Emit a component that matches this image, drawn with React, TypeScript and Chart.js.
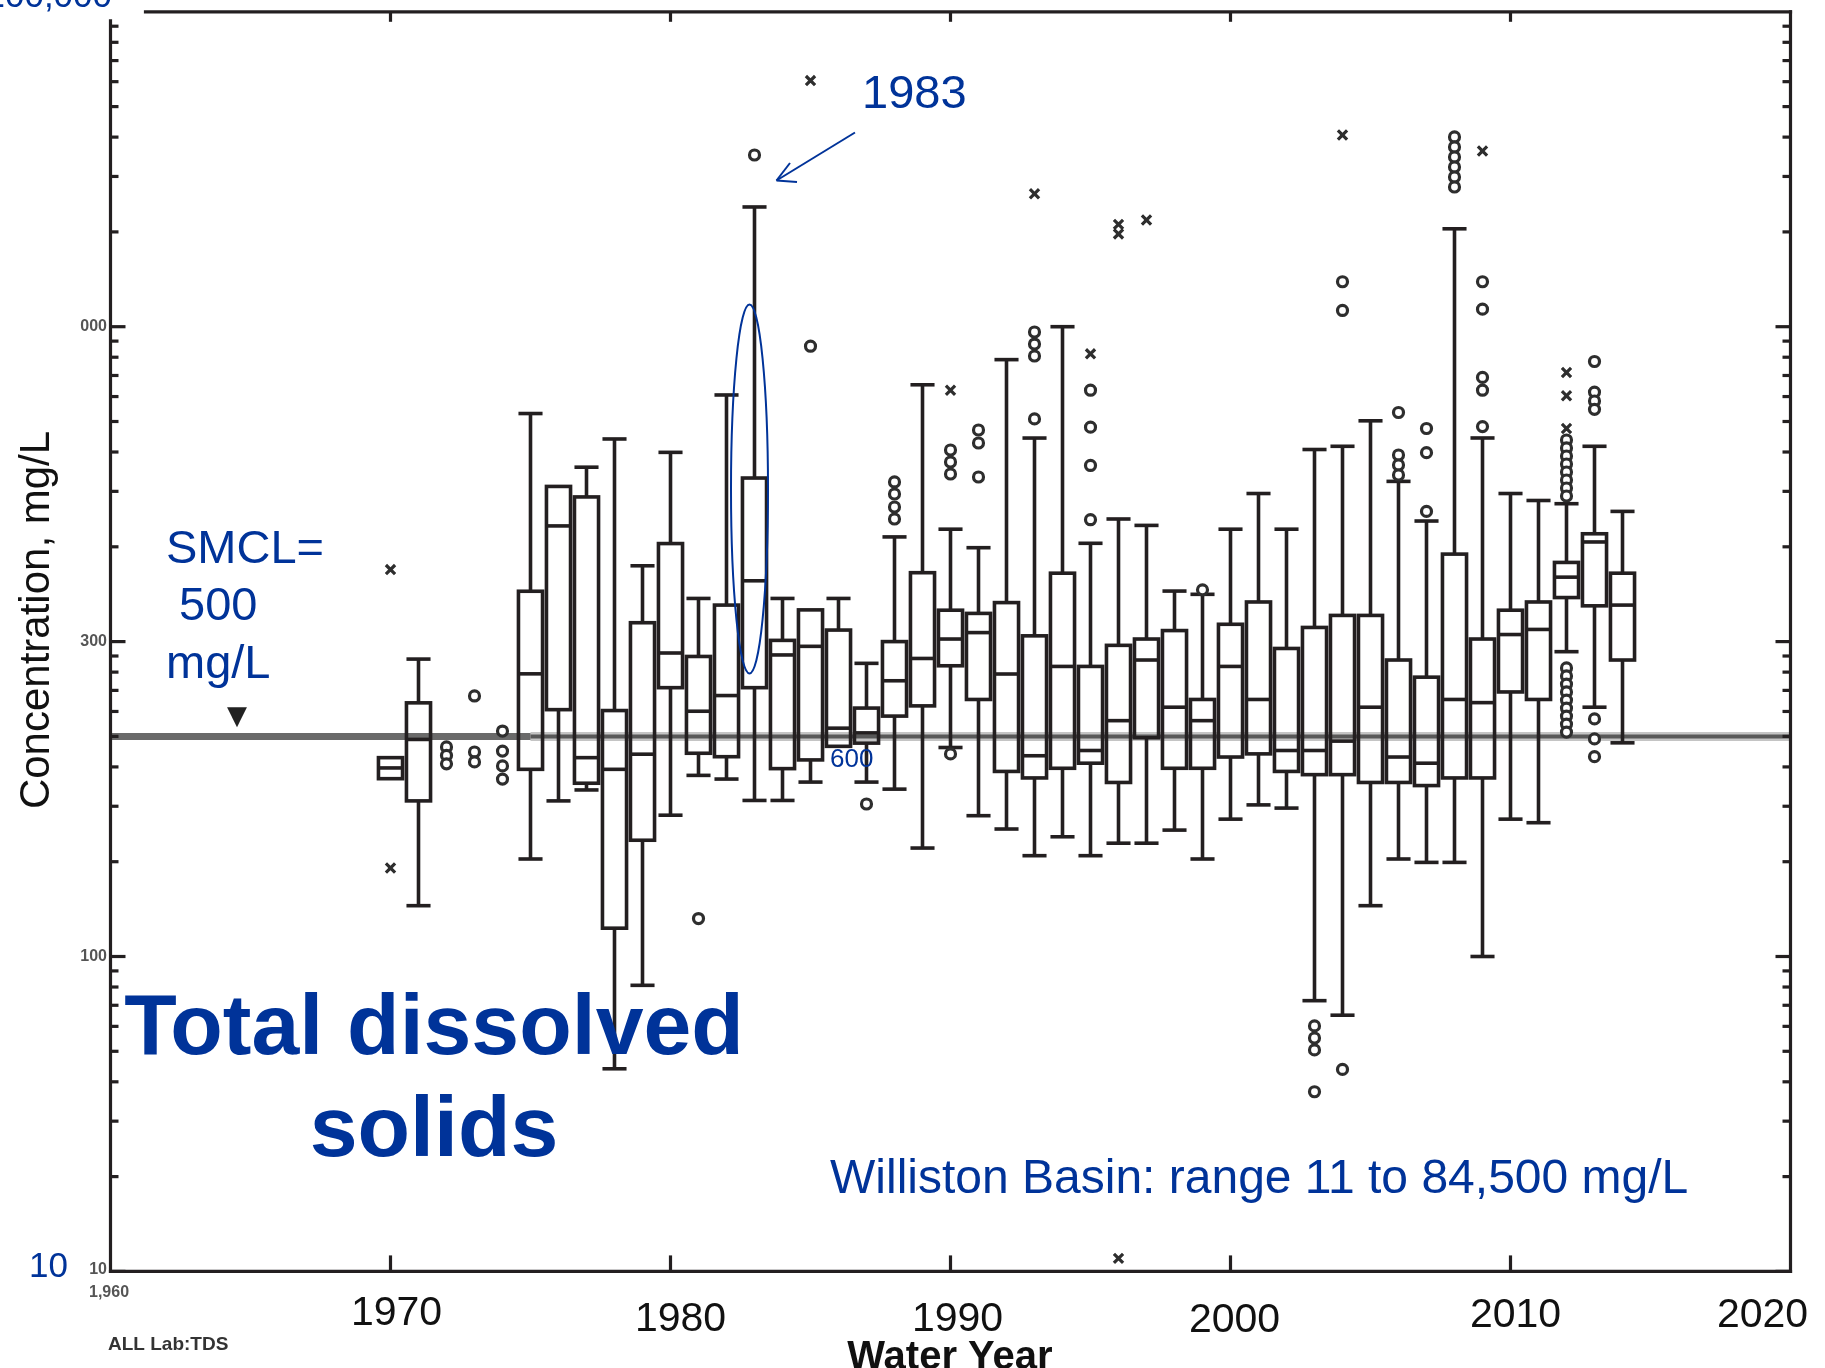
import React, { useEffect, useRef } from 'react';
import { Chart, registerables } from 'chart.js';

Chart.register(...registerables);

// ---------- data (mg/L, water year) ----------
const years = [1970, 1971, 1975, 1976, 1977, 1978, 1979, 1980, 1981, 1982, 1983, 1984, 1985, 1986, 1987, 1988, 1989, 1990, 1991, 1992, 1993, 1994, 1995, 1996, 1997, 1998, 1999, 2000, 2001, 2002, 2003, 2004, 2005, 2006, 2007, 2008, 2009, 2010, 2011, 2012, 2013, 2014];
const whiskerLow = [367, 145, 204, 312, 338, 44, 81, 281, 376, 366, 313, 313, 358, 465, 358, 340, 221, 461, 280, 254, 209, 240, 209, 229, 229, 252, 204, 273, 303, 296, 72.4, 65.1, 145, 204, 199, 199, 100, 273, 266, 929, 619, 477];
const q1 = [367, 312, 393, 608, 355, 123, 234, 714, 442, 431, 714, 395, 421, 465, 476, 580, 625, 838, 655, 387, 369, 396, 411, 357, 495, 396, 396, 430, 440, 387, 378, 378, 357, 357, 349, 369, 369, 692, 655, 1380, 1299, 874];
const median = [397, 489, 790, 2330, 428, 393, 439, 920, 601, 674, 1560, 907, 966, 531, 513, 751, 884, 1019, 1068, 789, 434, 834, 451, 561, 874, 619, 561, 834, 655, 451, 451, 483, 619, 430, 411, 655, 640, 1053, 1093, 1602, 2072, 1306];
const q3 = [428, 639, 1445, 3110, 2880, 604, 1148, 2048, 897, 1306, 3307, 1009, 1261, 1088, 615, 1000, 1655, 1258, 1229, 1330, 1043, 1649, 834, 973, 1019, 1084, 655, 1135, 1336, 951, 1109, 1211, 1211, 874, 771, 1896, 1019, 1258, 1336, 1784, 2200, 1649];
const whiskerHigh = [428, 880, 5300, 3110, 3580, 4400, 1741, 3990, 1371, 6070, 24000, 1371, 1261, 1371, 853, 2150, 6540, 2275, 1987, 7860, 4430, 10000, 2052, 2451, 2339, 1447, 1413, 2275, 2953, 2275, 4074, 4171, 5025, 3227, 2415, 20460, 4432, 2953, 2806, 2741, 4171, 2591];

const circleOutliers: [number, number][] = [
  [1972, 463], [1972, 435], [1972, 409],
  [1973, 672], [1973, 446], [1973, 415],
  [1974, 520], [1974, 449], [1974, 403], [1974, 366],
  [1981, 132], [1983, 35100], [1985, 8670], [1987, 305],
  [1988, 3213], [1988, 2943], [1988, 2676], [1988, 2451],
  [1990, 4060], [1990, 3718], [1990, 3406], [1990, 440],
  [1991, 4699], [1991, 4272], [1991, 3332],
  [1993, 9621], [1993, 8810], [1993, 8072], [1993, 5095],
  [1995, 6285], [1995, 4796], [1995, 3625], [1995, 2438],
  [1999, 1460],
  [2003, 60.2], [2003, 55.1], [2003, 50.5], [2003, 37.2],
  [2004, 13890], [2004, 11260], [2004, 43.8],
  [2006, 5340], [2006, 3913], [2006, 3638], [2006, 3381],
  [2007, 4751], [2007, 3980], [2007, 2591],
  [2008, 40040], [2008, 37210], [2008, 34590], [2008, 32150], [2008, 29880], [2008, 27770],
  [2009, 13890], [2009, 11370], [2009, 6902], [2009, 6285], [2009, 4817],
  [2012, 4367], [2012, 4120], [2012, 3885], [2012, 3664], [2012, 3456], [2012, 3260], [2012, 3074], [2012, 2900],
  [2012, 825], [2012, 778], [2012, 733], [2012, 692], [2012, 652], [2012, 615], [2012, 580], [2012, 547], [2012, 516],
  [2013, 7753], [2013, 6200], [2013, 5808], [2013, 5466], [2013, 568], [2013, 491], [2013, 431],
];
const crossOutliers: [number, number][] = [
  [1970, 1693], [1970, 191], [1985, 60470], [1990, 6285], [1993, 26420], [1995, 8200],
  [1996, 21130], [1996, 19710], [1996, 11], [1997, 21830], [2004, 40600], [2009, 36140],
  [2012, 7155], [2012, 6034], [2012, 4753],
];

const xTickYears = [1970, 1980, 1990, 2000, 2010, 2020];
const xTickLabels = ['1970', '1980', '1990', '2000', '2010', '2020'];
const yTickValues = [10, 100, 1000, 10000];
const yTickLabels = ['10', '100', '300', '000'];
const SMCL = 500;
const X_MIN = 1960;
const X_MAX = 2020;
const Y_MIN = 10;
const Y_MAX = 100000;

// ---------- style constants ----------
const INK = '#231f20';
const BLUE = '#003399';
const FONT = '"Liberation Sans", Arial, Helvetica, sans-serif';
const BOX_W = 0.86; // in years
const xLabelShift = [6, 10, 7, 4, 5, -28];
const xLabelBaseline = [1325, 1331, 1331, 1332, 1327, 1327];

function seg(ctx: CanvasRenderingContext2D, x1: number, y1: number, x2: number, y2: number) {
  ctx.beginPath();
  ctx.moveTo(x1, y1);
  ctx.lineTo(x2, y2);
  ctx.stroke();
}

const boxPlugin = {
  id: 'boxes',
  beforeDatasetsDraw(chart: any) {
    const { ctx } = chart;
    const xs = chart.scales.x;
    const ys = chart.scales.y;
    ctx.save();
    // SMCL line
    const ySm = ys.getPixelForValue(SMCL);
    const xl = xs.getPixelForValue(X_MIN);
    const xr = xs.getPixelForValue(X_MAX);
    const xSplit = xs.getPixelForValue(1975);
    ctx.lineCap = 'butt';
    ctx.strokeStyle = '#c4c4c4';
    ctx.lineWidth = 9;
    seg(ctx, xSplit, ySm, xr, ySm);
    ctx.strokeStyle = '#6a6a6a';
    ctx.lineWidth = 7;
    seg(ctx, xl, ySm, xSplit, ySm);
    ctx.strokeStyle = '#585858';
    ctx.lineWidth = 4;
    seg(ctx, xSplit, ySm, xr, ySm);

    // boxes
    ctx.strokeStyle = INK;
    ctx.lineWidth = 3.6;
    years.forEach((yr, i) => {
      const cx = xs.getPixelForValue(yr);
      const hw = (xs.getPixelForValue(yr + BOX_W / 2) - xs.getPixelForValue(yr - BOX_W / 2)) / 2;
      const yq1 = ys.getPixelForValue(q1[i]);
      const yq3 = ys.getPixelForValue(q3[i]);
      const ymed = ys.getPixelForValue(median[i]);
      const ylo = ys.getPixelForValue(whiskerLow[i]);
      const yhi = ys.getPixelForValue(whiskerHigh[i]);
      if (whiskerHigh[i] > q3[i]) {
        seg(ctx, cx, yq3, cx, yhi);
        seg(ctx, cx - hw, yhi, cx + hw, yhi);
      }
      if (whiskerLow[i] < q1[i]) {
        seg(ctx, cx, yq1, cx, ylo);
        seg(ctx, cx - hw, ylo, cx + hw, ylo);
      }
      ctx.strokeRect(cx - hw, yq3, 2 * hw, yq1 - yq3);
      seg(ctx, cx - hw, ymed, cx + hw, ymed);
    });
    ctx.restore();
  },
  afterDraw(chart: any) {
    const { ctx } = chart;
    const xs = chart.scales.x;
    const ys = chart.scales.y;
    const left = xs.getPixelForValue(X_MIN);
    const right = xs.getPixelForValue(X_MAX);
    const top = ys.getPixelForValue(Y_MAX);
    const bottom = ys.getPixelForValue(Y_MIN);
    ctx.save();
    // frame
    ctx.strokeStyle = INK;
    ctx.lineWidth = 3.2;
    ctx.lineCap = 'square';
    seg(ctx, left, top + 9, left, bottom);
    seg(ctx, left, bottom, right, bottom);
    seg(ctx, right, top, right, bottom);
    seg(ctx, left + 35, top, right, top);
    ctx.lineCap = 'butt';
    // y ticks (log)
    for (let d = Y_MIN; d < Y_MAX; d *= 10) {
      for (let m = 1; m <= 9; m++) {
        const v = d * m;
        const py = ys.getPixelForValue(v);
        const len = m === 1 ? 15 : 8;
        if (py > top + 10) seg(ctx, left, py, left + len, py);
        seg(ctx, right, py, right - len, py);
      }
    }
    // x ticks
    xTickYears.forEach((yr) => {
      if (yr <= X_MIN || yr >= X_MAX) return;
      const px = xs.getPixelForValue(yr);
      seg(ctx, px, bottom, px, bottom - 16);
      seg(ctx, px, top, px, top + 10);
    });

    // x tick labels
    ctx.fillStyle = '#111';
    ctx.font = `41px ${FONT}`;
    ctx.textAlign = 'center';
    ctx.textBaseline = 'alphabetic';
    xTickYears.forEach((yr, i) => {
      ctx.fillText(xTickLabels[i], xs.getPixelForValue(yr) + xLabelShift[i], xLabelBaseline[i]);
    });
    // x title
    ctx.font = `bold 40px ${FONT}`;
    ctx.fillText('Water Year', 950, 1369);

    // y title
    ctx.save();
    ctx.translate(49, 620);
    ctx.rotate(-Math.PI / 2);
    ctx.font = `42px ${FONT}`;
    ctx.fillStyle = '#111';
    ctx.textAlign = 'center';
    ctx.fillText('Concentration, mg/L', 0, 0);
    ctx.restore();

    // small grey y tick labels
    ctx.fillStyle = '#555';
    ctx.font = `bold 16px ${FONT}`;
    ctx.textAlign = 'right';
    ctx.textBaseline = 'middle';
    yTickValues.forEach((v, i) => {
      ctx.fillText(yTickLabels[i], 107, ys.getPixelForValue(v) - (v === Y_MIN ? 2 : 0));
    });
    ctx.textAlign = 'left';
    ctx.textBaseline = 'alphabetic';
    ctx.font = `bold 16px ${FONT}`;
    ctx.fillText('1,960', 89, 1297);
    ctx.fillStyle = '#333';
    ctx.font = `bold 19px ${FONT}`;
    ctx.fillText('ALL Lab:TDS', 108, 1350);

    // blue annotations
    ctx.fillStyle = BLUE;
    ctx.strokeStyle = BLUE;
    ctx.font = `35px ${FONT}`;
    ctx.textAlign = 'right';
    ctx.fillText('100,000', 112, 7);
    ctx.fillText('10', 68, 1277);

    ctx.textAlign = 'left';
    ctx.font = `47px ${FONT}`;
    ctx.fillText('SMCL=', 166, 563);
    ctx.fillText(' 500', 166, 620);
    ctx.fillText('mg/L', 166, 678);
    ctx.fillText('1983', 862, 108);
    ctx.font = `48px ${FONT}`;
    ctx.fillText('Williston Basin: range 11 to 84,500 mg/L', 830, 1193);

    ctx.font = `26px ${FONT}`;
    ctx.fillText('600', 830, 767);

    ctx.font = `bold 86px ${FONT}`;
    ctx.textAlign = 'center';
    ctx.fillText('Total dissolved', 434, 1054);
    ctx.fillText('solids', 434, 1156);

    // arrow to 1983
    ctx.lineWidth = 2;
    const tipX = 776.5, tipY = 180.5;
    seg(ctx, 855, 132.5, tipX, tipY);
    seg(ctx, tipX, tipY, 790, 163);
    seg(ctx, tipX, tipY, 797, 182);
    // ellipse around 1983 box
    ctx.beginPath();
    ctx.ellipse(xs.getPixelForValue(1983) - 5, 489, 18.5, 184.5, 0, 0, Math.PI * 2);
    ctx.stroke();

    // SMCL marker
    ctx.fillStyle = '#222';
    ctx.font = `26px "DejaVu Sans", sans-serif`;
    ctx.textAlign = 'center';
    ctx.fillText('\u25BC', 237, 724);
    ctx.restore();
  },
};

export default function App() {
  const ref = useRef<HTMLCanvasElement | null>(null);
  useEffect(() => {
    if (!ref.current) return;
    const chart = new Chart(ref.current, {
      type: 'scatter',
      data: {
        datasets: [
          {
            label: 'outliers (o)',
            data: circleOutliers.map(([x, y]) => ({ x, y })),
            pointStyle: 'circle',
            radius: 5,
            borderWidth: 3.2,
            borderColor: '#2e2e2e',
            backgroundColor: '#ffffff',
          },
          {
            label: 'outliers (x)',
            data: crossOutliers.map(([x, y]) => ({ x, y })),
            pointStyle: 'crossRot',
            radius: 6.5,
            borderWidth: 3.2,
            borderColor: '#2e2e2e',
            backgroundColor: '#2e2e2e',
          },
        ],
      },
      options: {
        responsive: false,
        animation: false,
        devicePixelRatio: 1,
        layout: { padding: { left: 110.5, right: 34.5, top: 11.8, bottom: 96.6 } },
        plugins: { legend: { display: false }, tooltip: { enabled: false } },
        scales: {
          x: { type: 'linear', min: X_MIN, max: X_MAX, display: false },
          y: { type: 'logarithmic', min: Y_MIN, max: Y_MAX, display: false },
        },
        elements: { point: { hoverRadius: 5 } },
      },
      plugins: [boxPlugin],
    } as any);
    return () => chart.destroy();
  }, []);
  return (
    <div style={{ position: 'fixed', left: 0, top: 0, width: 1825, height: 1368, background: '#fff' }}>
      <canvas ref={ref} width={1825} height={1368} style={{ display: 'block' }} />
    </div>
  );
}
